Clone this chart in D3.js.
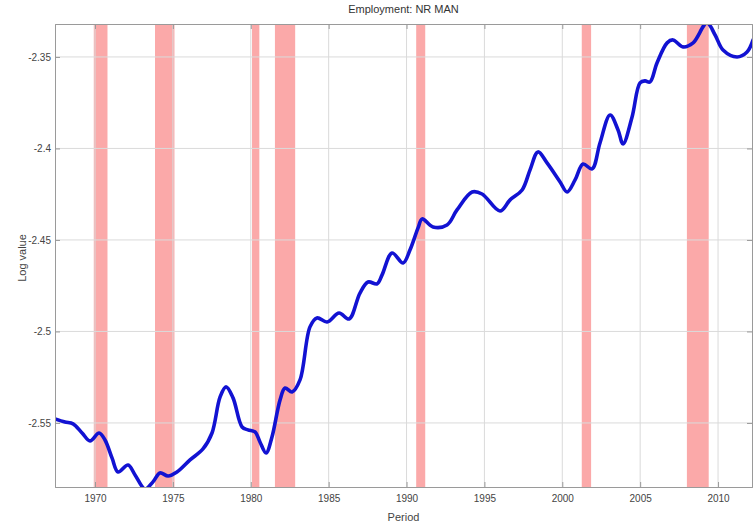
<!DOCTYPE html>
<html>
<head>
<meta charset="utf-8">
<script src="https://cdn.jsdelivr.net/npm/d3@7/dist/d3.min.js"></script>
<style>
  html, body { margin: 0; padding: 0; background: #fff; }
  svg { display: block; }
  text { font-family: "Liberation Sans", Arial, sans-serif; }
</style>
</head>
<body>
<svg id="chart" width="754" height="526"></svg>
<script>
// ---- data ----
const years = [1967.43, 1968.07, 1968.59, 1969.17, 1969.68, 1970.26, 1970.64, 1971.09, 1971.48, 1972.12,
  1972.57, 1973.21, 1973.72, 1974.17, 1974.69, 1975.26, 1976.10, 1976.93, 1977.51, 1978.03,
  1978.41, 1978.86, 1979.44, 1979.82, 1980.27, 1980.59, 1980.98, 1981.36, 1981.88, 1982.20,
  1982.65, 1983.16, 1983.80, 1984.25, 1984.90, 1985.67, 1986.31, 1987.01, 1987.53, 1988.11,
  1988.43, 1989.07, 1989.78, 1990.22, 1990.74, 1991.00, 1991.70, 1992.60, 1993.24, 1994.21,
  1994.85, 1996.00, 1996.65, 1997.42, 1997.93, 1998.44, 1999.02, 1999.86, 2000.31, 2000.82,
  2001.33, 2001.91, 2002.42, 2003.07, 2003.58, 2003.90, 2004.48, 2004.99, 2005.31, 2005.63,
  2006.08, 2006.73, 2007.11, 2007.75, 2008.40, 2009.29, 2009.81, 2010.32, 2011.22, 2011.86, 2012.25];
const logValues = [-2.5478, -2.5495, -2.5505, -2.5555, -2.5598, -2.5555, -2.5593, -2.5691, -2.5768, -2.5730,
  -2.5784, -2.5861, -2.5822, -2.5773, -2.5790, -2.5768, -2.5702, -2.5642, -2.5555, -2.5358,
  -2.5303, -2.5363, -2.5522, -2.5538, -2.5549, -2.5604, -2.5664, -2.5577, -2.5374, -2.5309,
  -2.5331, -2.5265, -2.4975, -2.4926, -2.4948, -2.4899, -2.4932, -2.4790, -2.4730, -2.4740,
  -2.4691, -2.4571, -2.4626, -2.4555, -2.4434, -2.4385, -2.4429, -2.4418, -2.4336, -2.4238,
  -2.4249, -2.4342, -2.4281, -2.4227, -2.4117, -2.4019, -2.4079, -2.4183, -2.4238, -2.4172,
  -2.4085, -2.4112, -2.3970, -2.3817, -2.3899, -2.3975, -2.3828, -2.3642, -2.3631, -2.3637,
  -2.3533, -2.3423, -2.3407, -2.3445, -2.3423, -2.3314, -2.3380, -2.3462, -2.3500, -2.3473, -2.3407];
const recessionStarts = [1969.92, 1973.85, 1980.08, 1981.55, 1990.62, 2001.25, 2008.0];
const recessionEnds   = [1970.80, 1975.10, 1980.55, 1982.85, 1991.20, 2001.85, 2009.40];
const xTicks = [1970, 1975, 1980, 1985, 1990, 1995, 2000, 2005, 2010];
const yTicks = [-2.35, -2.4, -2.45, -2.5, -2.55];
const yTickLabels = ["-2.35", "-2.4", "-2.45", "-2.5", "-2.55"];
const titleText = "Employment: NR MAN";
const xLabel = "Period";
const yLabel = "Log value";

// ---- layout ----
const svg = d3.select("#chart");
const pL = 55, pR = 752, pT = 24, pB = 487;
const x = d3.scaleLinear().domain([1967.43, 2012.18]).range([pL, pR]);
const y = d3.scaleLinear().domain([-2.332, -2.585]).range([pT, pB]);

svg.append("defs").append("clipPath").attr("id", "clip")
  .append("rect").attr("x", pL).attr("y", pT).attr("width", pR - pL).attr("height", pB - pT);

const plot = svg.append("g").attr("clip-path", "url(#clip)");

// recession bands
plot.selectAll("rect.rec").data(recessionStarts.map((s, i) => [s, recessionEnds[i]]))
  .enter().append("rect").attr("class", "rec")
  .attr("x", d => x(d[0])).attr("width", d => x(d[1]) - x(d[0]))
  .attr("y", pT).attr("height", pB - pT)
  .attr("fill", "#fba9a9");

// grid
plot.selectAll("line.vg").data(xTicks).enter().append("line")
  .attr("x1", d => x(d)).attr("x2", d => x(d)).attr("y1", pT).attr("y2", pB)
  .attr("stroke", "#dadada").attr("stroke-width", 1);
plot.selectAll("line.hg").data(yTicks).enter().append("line")
  .attr("y1", d => y(d)).attr("y2", d => y(d)).attr("x1", pL).attr("x2", pR)
  .attr("stroke", "#dadada").attr("stroke-width", 1);

// line
const line = d3.line().x((d, i) => x(years[i])).y(d => y(d)).curve(d3.curveCatmullRom.alpha(0.5));
plot.append("path").datum(logValues).attr("d", line)
  .attr("fill", "none").attr("stroke", "#1212d2").attr("stroke-width", 3.6)
  .attr("stroke-linejoin", "round").attr("stroke-linecap", "round");

// axes via d3
const xAxis = d3.axisBottom(x).tickValues(xTicks).tickFormat(d3.format("d")).tickSize(-5).tickPadding(8);
const gx = svg.append("g").attr("transform", `translate(0,${pB})`).call(xAxis);
const yAxis = d3.axisLeft(y).tickValues(yTicks).tickFormat((d, i) => yTickLabels[i]).tickSize(-5).tickPadding(4);
const gy = svg.append("g").attr("transform", `translate(${pL},0)`).call(yAxis);
const yAxisR = d3.axisRight(y).tickValues(yTicks).tickFormat("").tickSize(-5);
const gyr = svg.append("g").attr("transform", `translate(${pR},0)`).call(yAxisR);
const xAxisT = d3.axisTop(x).tickValues(xTicks).tickFormat("").tickSize(-5);
const gxt = svg.append("g").attr("transform", `translate(0,${pT})`).call(xAxisT);

[gx, gy, gyr, gxt].forEach(g => {
  g.select(".domain").attr("stroke", "#9a9a9a");
  g.selectAll(".tick line").attr("stroke", "#9a9a9a");
  g.selectAll(".tick text").attr("fill", "#444").style("font-size", "10px")
    .style("font-family", "'Liberation Sans', Arial, sans-serif");
});

// labels
svg.append("text").attr("x", (pL + pR) / 2).attr("y", 13).attr("text-anchor", "middle")
  .attr("fill", "#333").style("font-size", "11px").text(titleText);
svg.append("text").attr("x", (pL + pR) / 2).attr("y", 521).attr("text-anchor", "middle")
  .attr("fill", "#444").style("font-size", "11px").text(xLabel);
svg.append("text").attr("transform", "translate(26,258) rotate(-90)").attr("text-anchor", "middle")
  .attr("fill", "#444").style("font-size", "11px").text(yLabel);
</script>
</body>
</html>
